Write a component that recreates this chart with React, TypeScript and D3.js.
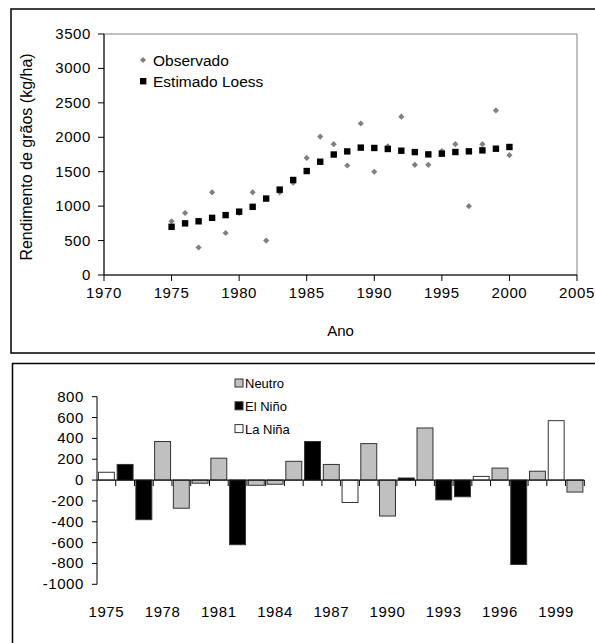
import React from "react";
import * as d3 from "d3";

const years = [1975,1976,1977,1978,1979,1980,1981,1982,1983,1984,1985,1986,1987,1988,1989,1990,1991,1992,1993,1994,1995,1996,1997,1998,1999,2000];
const observed = [780,900,400,1200,610,900,1200,500,1200,1340,1700,2010,1900,1590,2200,1500,1870,2300,1600,1600,1800,1900,1000,1900,2390,1740];
const loess = [700,750,780,830,870,920,990,1110,1240,1380,1510,1645,1750,1795,1850,1845,1830,1805,1785,1752,1762,1786,1796,1810,1834,1859];
const anomaly = [75,150,-380,370,-270,-30,210,-620,-50,-40,180,370,150,-215,350,-345,20,500,-190,-160,35,115,-810,85,570,-115];
const phase = ["La Niña","El Niño","El Niño","Neutro","Neutro","Neutro","Neutro","El Niño","Neutro","Neutro","Neutro","El Niño","Neutro","La Niña","Neutro","Neutro","El Niño","Neutro","El Niño","El Niño","La Niña","Neutro","El Niño","Neutro","La Niña","Neutro"];
const phases = ["Neutro","El Niño","La Niña"];
const phaseFill: Record<string,string> = { "Neutro": "#c0c0c0", "El Niño": "#000000", "La Niña": "#ffffff" };
const topYTicks = [0,500,1000,1500,2000,2500,3000,3500];
const topXTicks = [1970,1975,1980,1985,1990,1995,2000,2005];
const botYTicks = [-1000,-800,-600,-400,-200,0,200,400,600,800];
const botXLabels = [1975,1978,1981,1984,1987,1990,1993,1996,1999];

const FONT = "'Liberation Sans', Arial, sans-serif";

export default function App() {
  // top chart scales
  const x = d3.scaleLinear().domain([1970, 2005]).range([104, 577]);
  const y = d3.scaleLinear().domain([0, 3500]).range([275, 34]);
  // bottom chart scales
  const xb = d3.scaleBand<number>().domain(years).range([97, 584.3]).paddingInner(0.15).paddingOuter(0.075);
  const step = (584.3 - 97) / years.length;
  const yb = d3.scaleLinear().domain([-1000, 800]).range([584.3, 396.7]);
  const diamond = d3.symbol().type(d3.symbolSquare).size(19)();

  return (
    <svg width={595} height={643} style={{ position: "absolute", left: 0, top: 0, background: "#fff" }} fontFamily={FONT}>
      <rect x={0} y={0} width={595} height={643} fill="#fff" />
      {/* panel borders */}
      <rect x={11} y={9} width={600} height={344} fill="none" stroke="#000" strokeWidth={1.5} />
      <rect x={12.5} y={363.5} width={600} height={300} fill="none" stroke="#000" strokeWidth={1.5} />

      {/* ===== top chart ===== */}
      <rect x={104} y={34} width={577 - 104} height={275 - 34} fill="none" stroke="#808080" strokeWidth={1} />
      <line x1={104} x2={104} y1={34} y2={275} stroke="#000" />
      <line x1={104} x2={577} y1={275} y2={275} stroke="#000" />
      {topYTicks.map(t => (
        <g key={"ty" + t}>
          <line x1={98} x2={104} y1={y(t)} y2={y(t)} stroke="#000" />
          <text x={91} y={y(t) + 5} textAnchor="end" fontSize={15} letterSpacing={0.6}>{t}</text>
        </g>
      ))}
      {topXTicks.map(t => (
        <g key={"tx" + t}>
          <line x1={x(t)} x2={x(t)} y1={275} y2={281} stroke="#000" />
          <text x={x(t)} y={298} textAnchor="middle" fontSize={15} letterSpacing={0.6}>{t}</text>
        </g>
      ))}
      <text x={340.5} y={336} textAnchor="middle" fontSize={15}>Ano</text>
      <text transform={`translate(32,157) rotate(-90)`} textAnchor="middle" fontSize={16}>Rendimento de grãos (kg/ha)</text>

      {observed.map((v, i) => (
        <path key={"o" + i} d={diamond} transform={`translate(${x(years[i])},${y(v)}) rotate(45)`} fill="#808080" />
      ))}
      {loess.map((v, i) => (
        <rect key={"l" + i} x={x(years[i]) - 3.2} y={y(v) - 3.2} width={6.4} height={6.4} fill="#000" />
      ))}
      {/* top legend */}
      <path d={diamond} transform="translate(143,60) rotate(45)" fill="#808080" />
      <text x={153} y={65.5} fontSize={15.5}>Observado</text>
      <rect x={140} y={78} width={6.4} height={6.4} fill="#000" />
      <text x={153} y={86.5} fontSize={15.5}>Estimado Loess</text>

      {/* ===== bottom chart ===== */}
      {years.map((yr, i) => {
        const v = anomaly[i];
        const y0 = yb(Math.max(0, v));
        const h = Math.abs(yb(v) - yb(0));
        return (
          <rect key={"b" + yr} x={xb(yr)} y={y0} width={xb.bandwidth()} height={h}
            fill={phaseFill[phase[i]]} stroke="#333" strokeWidth={1} />
        );
      })}
      <line x1={97} x2={97} y1={396.7} y2={584.3} stroke="#000" />
      <line x1={97} x2={584.3} y1={yb(0)} y2={yb(0)} stroke="#000" />
      {botYTicks.map(t => (
        <g key={"by" + t}>
          <line x1={92} x2={97} y1={yb(t)} y2={yb(t)} stroke="#000" />
          <text x={84} y={yb(t) + 5} textAnchor="end" fontSize={15} letterSpacing={0.6}>{t}</text>
        </g>
      ))}
      {years.map((yr, i) => (
        <line key={"bt" + yr} x1={97 + step * (i + 1)} x2={97 + step * (i + 1)} y1={yb(0)} y2={yb(0) + 6} stroke="#000" />
      ))}
      {botXLabels.map(t => (
        <text key={"bx" + t} x={(xb(t) as number) + xb.bandwidth() / 2} y={617} textAnchor="middle" fontSize={15} letterSpacing={0.6}>{t}</text>
      ))}
      {/* bottom legend */}
      {phases.map((p, i) => (
        <g key={"lg" + p}>
          <rect x={235} y={379 + i * 22.8} width={8} height={8} fill={phaseFill[p]} stroke="#333" strokeWidth={1} />
          <text x={245} y={388 + i * 22.8} fontSize={13}>{p}</text>
        </g>
      ))}
    </svg>
  );
}
